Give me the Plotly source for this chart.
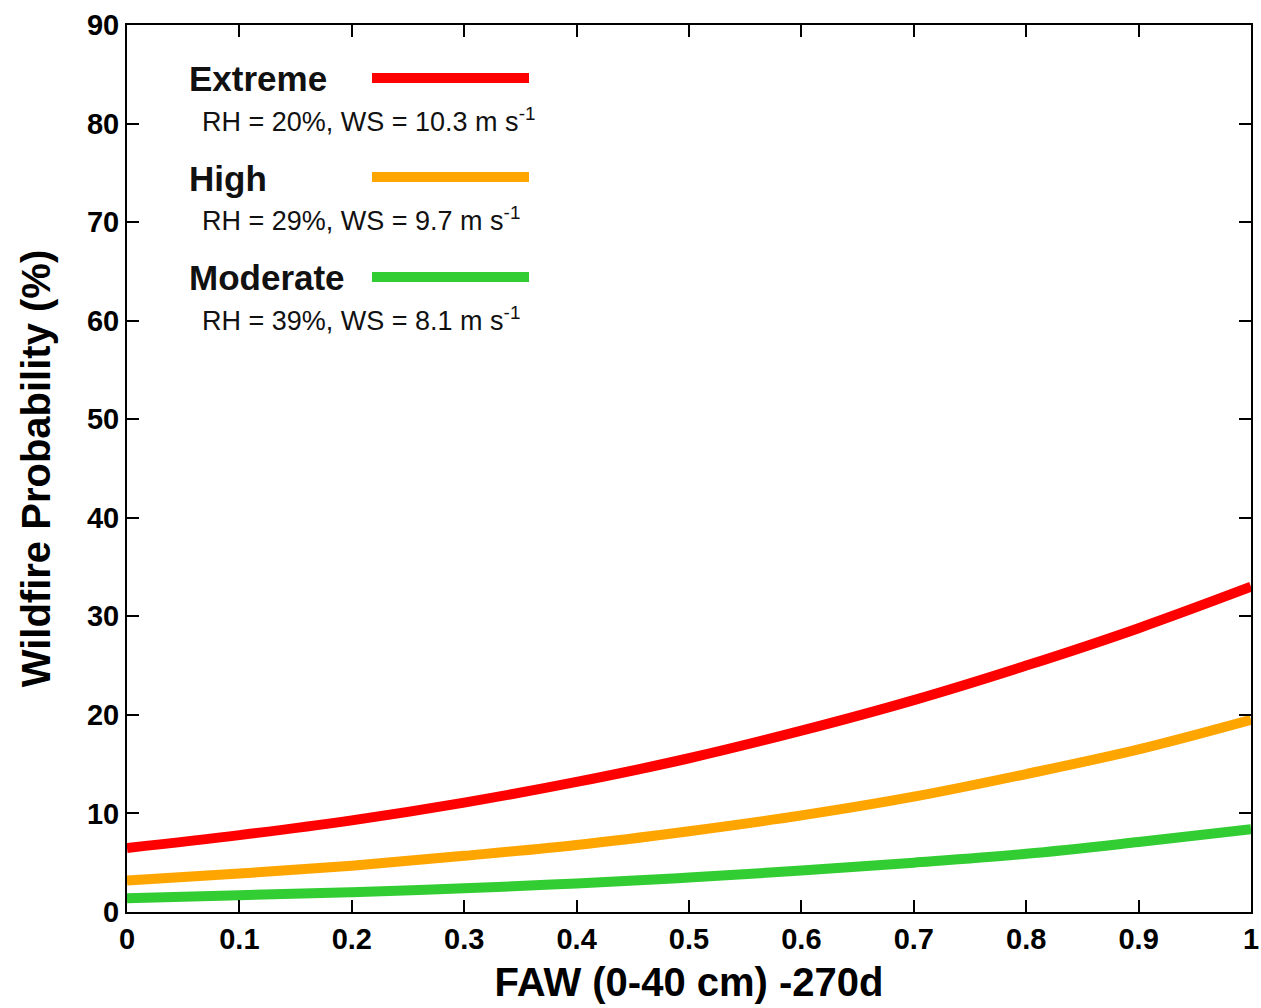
import plotly.graph_objects as go

faw = [0.0, 0.1, 0.2, 0.3, 0.4, 0.5, 0.6, 0.7, 0.8, 0.9, 1.0]
extreme = [6.5, 7.8, 9.3, 11.1, 13.2, 15.6, 18.4, 21.5, 25.0, 28.8, 33.0]
high = [3.2, 3.9, 4.7, 5.7, 6.8, 8.2, 9.8, 11.7, 14.0, 16.5, 19.5]
moderate = [1.4, 1.7, 2.0, 2.4, 2.9, 3.5, 4.2, 5.0, 5.9, 7.1, 8.4]

names = ["Extreme", "High", "Moderate"]
subs = ["RH = 20%, WS = 10.3 m s<sup>-1</sup>",
        "RH = 29%, WS = 9.7 m s<sup>-1</sup>",
        "RH = 39%, WS = 8.1 m s<sup>-1</sup>"]
colors = ["#ff0000", "#ffa500", "#32cd32"]
series = [extreme, high, moderate]

FONT = "Liberation Sans, Arial, sans-serif"

fig = go.Figure()
for n, s, c in zip(names, series, colors):
    fig.add_trace(go.Scatter(x=faw, y=s, mode="lines", name=n,
                             line=dict(color=c, width=10, shape="spline"),
                             showlegend=False))

PL, PR, PT, PB = 127, 1251, 25, 912
W, H = 1261, 1008
L, T = PL, PT
R = W - PR
B = H - PB
pw, ph = PR - PL, PB - PT

def px(x):
    return (x - PL) / pw

def py(y):
    return 1 - (y - PT) / ph

name_y = [79, 178, 278]
sub_y = [120, 219, 319]
for n, sub, c, ny, sy in zip(names, subs, colors, name_y, sub_y):
    fig.add_annotation(x=px(187), y=py(ny), xref="paper", yref="paper",
                       text="<b>" + n + "</b>", showarrow=False,
                       xanchor="left", yanchor="middle",
                       font=dict(family=FONT, size=35, color="#111111"))
    fig.add_annotation(x=px(200), y=py(sy), xref="paper", yref="paper",
                       text=sub, showarrow=False,
                       xanchor="left", yanchor="middle",
                       font=dict(family=FONT, size=27, color="#111111"))
    fig.add_shape(type="line", xref="paper", yref="paper",
                  x0=px(372), x1=px(529), y0=py(ny - 1), y1=py(ny - 1),
                  line=dict(color=c, width=10))

axis_common = dict(showline=True, linecolor="black", linewidth=2, mirror="ticks",
                   ticks="inside", ticklen=12, tickwidth=2, tickcolor="black",
                   showgrid=False, zeroline=False, automargin=False,
                   tickfont=dict(family=FONT, size=29, color="black"))

fig.update_layout(
    width=W, height=H,
    margin=dict(l=L, r=R, t=T, b=B),
    plot_bgcolor="white", paper_bgcolor="white",
    xaxis=dict(range=[0, 1], tickvals=[0, 0.1, 0.2, 0.3, 0.4, 0.5, 0.6, 0.7, 0.8, 0.9, 1],
               ticktext=["<b>0</b>", "<b>0.1</b>", "<b>0.2</b>", "<b>0.3</b>", "<b>0.4</b>", "<b>0.5</b>",
                         "<b>0.6</b>", "<b>0.7</b>", "<b>0.8</b>", "<b>0.9</b>", "<b>1</b>"],
               title=dict(text="<b>FAW (0-40 cm) -270d</b>", standoff=14,
                          font=dict(family=FONT, size=40, color="black")),
               **axis_common),
    yaxis=dict(range=[0, 90], tickvals=list(range(0, 91, 10)),
               ticktext=["<b>%d</b>" % v for v in range(0, 91, 10)],
               title=dict(text="<b>Wildfire Probability (%)</b>", standoff=24,
                          font=dict(family=FONT, size=40, color="black")),
               **axis_common),
)

fig.write_html("out.html", config={"displayModeBar": False},
               post_script="document.body.style.margin='0';document.body.style.overflow='hidden';")
